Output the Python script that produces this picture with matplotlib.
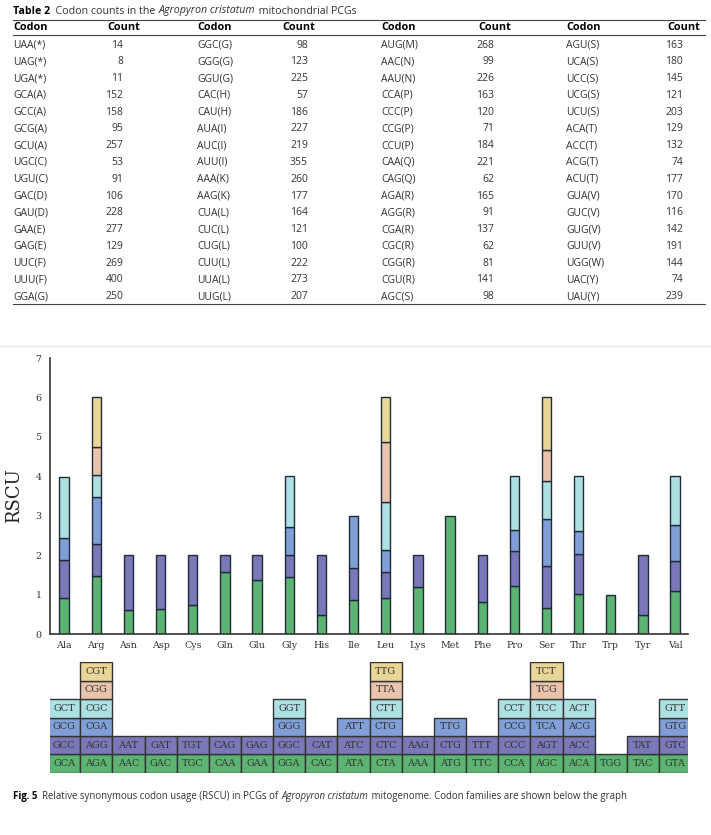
import numpy as np
import matplotlib.pyplot as plt

W, H = 711, 835

# ---- Table 2 data (four column blocks) ----
col1_codon = ["UAA(*)", "UAG(*)", "UGA(*)", "GCA(A)", "GCC(A)", "GCG(A)", "GCU(A)", "UGC(C)",
              "UGU(C)", "GAC(D)", "GAU(D)", "GAA(E)", "GAG(E)", "UUC(F)", "UUU(F)", "GGA(G)"]
col1_count = [14, 8, 11, 152, 158, 95, 257, 53, 91, 106, 228, 277, 129, 269, 400, 250]
col2_codon = ["GGC(G)", "GGG(G)", "GGU(G)", "CAC(H)", "CAU(H)", "AUA(I)", "AUC(I)", "AUU(I)",
              "AAA(K)", "AAG(K)", "CUA(L)", "CUC(L)", "CUG(L)", "CUU(L)", "UUA(L)", "UUG(L)"]
col2_count = [98, 123, 225, 57, 186, 227, 219, 355, 260, 177, 164, 121, 100, 222, 273, 207]
col3_codon = ["AUG(M)", "AAC(N)", "AAU(N)", "CCA(P)", "CCC(P)", "CCG(P)", "CCU(P)", "CAA(Q)",
              "CAG(Q)", "AGA(R)", "AGG(R)", "CGA(R)", "CGC(R)", "CGG(R)", "CGU(R)", "AGC(S)"]
col3_count = [268, 99, 226, 163, 120, 71, 184, 221, 62, 165, 91, 137, 62, 81, 141, 98]
col4_codon = ["AGU(S)", "UCA(S)", "UCC(S)", "UCG(S)", "UCU(S)", "ACA(T)", "ACC(T)", "ACG(T)",
              "ACU(T)", "GUA(V)", "GUC(V)", "GUG(V)", "GUU(V)", "UGG(W)", "UAC(Y)", "UAU(Y)"]
col4_count = [163, 180, 145, 121, 203, 129, 132, 74, 177, 170, 116, 142, 191, 144, 74, 239]

# ---- Fig. 5 data: RSCU stacks ----
amino = ["Ala", "Arg", "Asn", "Asp", "Cys", "Gln", "Glu", "Gly", "His", "Ile", "Leu",
         "Lys", "Met", "Phe", "Pro", "Ser", "Thr", "Trp", "Tyr", "Val"]
rscu = [
    [0.92, 0.95, 0.57, 1.55],
    [1.46, 0.81, 1.21, 0.55, 0.72, 1.25],
    [0.61, 1.39],
    [0.63, 1.37],
    [0.74, 1.26],
    [1.56, 0.44],
    [1.36, 0.64],
    [1.44, 0.56, 0.71, 1.29],
    [0.47, 1.53],
    [0.85, 0.82, 1.33],
    [0.91, 0.67, 0.55, 1.23, 1.51, 1.14],
    [1.19, 0.81],
    [3.00],
    [0.80, 1.20],
    [1.21, 0.89, 0.53, 1.37],
    [0.65, 1.07, 1.19, 0.96, 0.80, 1.34],
    [1.01, 1.03, 0.58, 1.38],
    [1.00],
    [0.47, 1.53],
    [1.10, 0.75, 0.92, 1.23],
]
families = [
    ["GCA", "GCC", "GCG", "GCT"],
    ["AGA", "AGG", "CGA", "CGC", "CGG", "CGT"],
    ["AAC", "AAT"], ["GAC", "GAT"], ["TGC", "TGT"], ["CAA", "CAG"], ["GAA", "GAG"],
    ["GGA", "GGC", "GGG", "GGT"], ["CAC", "CAT"], ["ATA", "ATC", "ATT"],
    ["CTA", "CTC", "CTG", "CTT", "TTA", "TTG"], ["AAA", "AAG"], ["ATG", "CTG", "TTG"],
    ["TTC", "TTT"], ["CCA", "CCC", "CCG", "CCT"],
    ["AGC", "AGT", "TCA", "TCC", "TCG", "TCT"], ["ACA", "ACC", "ACG", "ACT"],
    ["TGG"], ["TAC", "TAT"], ["GTA", "GTC", "GTG", "GTT"],
]
colors = ["#5db472", "#7a78b8", "#7f9fd6", "#ade0e2", "#e9c3ab", "#e9d697"]

fig = plt.figure(figsize=(W / 100, H / 100), dpi=100)

# full-figure axes in pixel units for table and captions
bg = fig.add_axes([0, 0, 1, 1])
bg.set_xlim(0, W)
bg.set_ylim(H, 0)
bg.axis("off")
r = fig.canvas.get_renderer()

sans = "Open Sans"


def run(parts, x, y, size):
    # write pieces of text one after another on one line
    for s, kw in parts:
        t = bg.text(x, y, s, fontsize=size, va="center", ha="left", family=sans, **kw)
        x += t.get_window_extent(renderer=r).width
        if s.endswith(" "):
            x += 0.8


run([("Table 2", dict(weight="bold", color="black")),
     ("  Codon counts in the ", dict(color="#333333")),
     ("Agropyron cristatum", dict(style="italic", color="#333333")),
     (" mitochondrial PCGs", dict(color="#333333"))], 13, 11, 7.7)

bg.plot([13, 705], [20, 20], color="#444444", lw=0.8)
bg.plot([13, 705], [35, 35], color="#444444", lw=0.8)
bg.plot([13, 705], [304, 304], color="#444444", lw=0.8)

codon_x = [13, 197, 381, 566]
head_x = [107, 282, 478, 667]
num_x = [123, 308, 494, 683]
blocks = [(col1_codon, col1_count), (col2_codon, col2_count),
          (col3_codon, col3_count), (col4_codon, col4_count)]
for k, (cods, cnts) in enumerate(blocks):
    bg.text(codon_x[k], 28, "Codon", fontsize=7.8, weight="bold", family=sans, va="center")
    bg.text(head_x[k], 28, "Count", fontsize=7.8, weight="bold", family=sans, va="center")
    for i in range(len(cods)):
        yy = 45 + i * 16.78
        bg.text(codon_x[k], yy, cods[i], fontsize=7.5, family=sans, va="center", color="#333333")
        bg.text(num_x[k], yy, str(cnts[i]), fontsize=7.5, family=sans, va="center",
                ha="right", color="#333333")

bg.plot([0, W], [346, 346], color="#e6e6e6", lw=1)

# ---- bar chart ----
xl = (-0.44, 19.4)
ax = fig.add_axes([50 / W, (H - 634) / H, 638 / W, 276 / H])
x = np.arange(len(amino))
for i, segs in enumerate(rscu):
    bottom = 0
    for j, v in enumerate(segs):
        ax.bar(x[i], v, bottom=bottom, width=0.29, color=colors[j],
               edgecolor="#1f2b38", linewidth=1)
        bottom += v
ax.set_xlim(*xl)
ax.set_ylim(0, 7)
ax.set_xticks(x)
ax.set_xticklabels(amino, family="DejaVu Serif", fontsize=6.8, color="#333333")
ax.set_yticks(range(8))
ax.set_yticklabels([str(v) for v in range(8)], family="DejaVu Serif", fontsize=6.8,
                   color="#333333")
ax.tick_params(length=0, pad=6)
ax.tick_params(axis="x", pad=5)
for s in ["top", "right"]:
    ax.spines[s].set_visible(False)
for s in ["left", "bottom"]:
    ax.spines[s].set_color("#333333")
    ax.spines[s].set_linewidth(1.2)
ax.set_ylabel("RSCU", family="DejaVu Serif", fontsize=13, color="#222222", labelpad=9)
ax.patch.set_alpha(0)

# ---- codon family grid ----
gx = fig.add_axes([50 / W, (H - 772.7) / H, 638 / W, 110.4 / H])
gx.set_xlim(*xl)
gx.set_ylim(0, 6)
gx.axis("off")
for i, fam in enumerate(families):
    for j, cod in enumerate(fam):
        gx.add_patch(plt.Rectangle((i - 0.5, j), 1, 1, facecolor=colors[j],
                                   edgecolor="#333333", linewidth=1))
        gx.text(i, j + 0.5, cod, ha="center", va="center", fontsize=7,
                family="DejaVu Serif", color="#333333")

run([("Fig. 5", dict(weight="bold", color="black")),
     ("  Relative synonymous codon usage (RSCU) in PCGs of ", dict(color="#333333")),
     ("Agropyron cristatum", dict(style="italic", color="#333333")),
     (" mitogenome. Codon families are shown below the graph", dict(color="#333333"))],
    13, 796, 6.9)

fig.savefig("out.png", dpi=100)
